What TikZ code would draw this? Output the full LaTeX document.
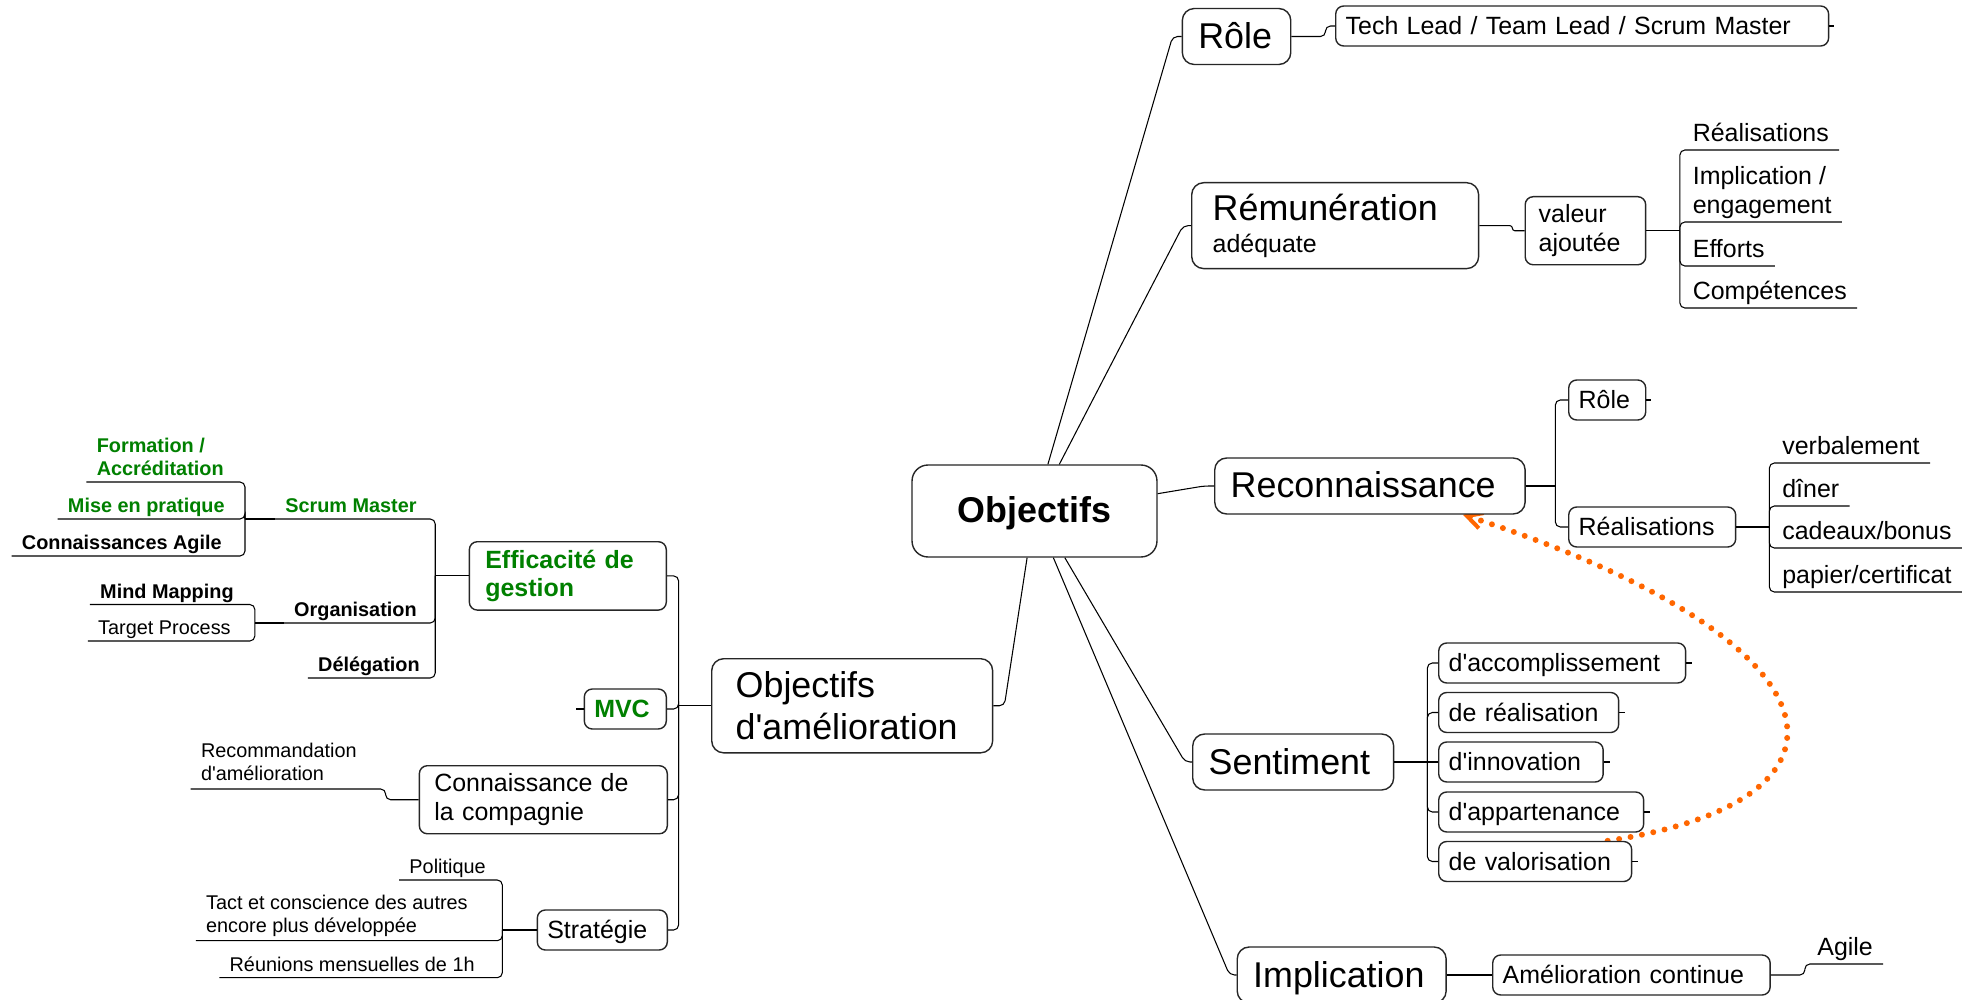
\documentclass[tikz,border=0pt]{standalone}
\usepackage{fontspec}
\setmainfont{Liberation Sans}[Ligatures=TeXOff]
\usepackage{tikz}
\usetikzlibrary{calc,arrows.meta}
\definecolor{mmgreen}{RGB}{0,128,0}
\definecolor{mmorange}{RGB}{255,102,0}
\newcommand{\fbig}{\fontsize{20.4pt}{23.8pt}\selectfont}
\newcommand{\fmed}{\fontsize{14.2pt}{16.4pt}\selectfont}
\newcommand{\fsmall}{\fontsize{11.3pt}{13pt}\selectfont}
\pgfdeclarelayer{background}
\pgfsetlayers{background,main}
\tikzset{
  conn/.style={line width=0.6pt, rounded corners=0.1cm},
  mtopic/.style={draw=black!85, line width=0.8pt, fill=white, rounded corners=0.16cm,
    align=left, text width=#1, font=\fmed},
  topic/.style={mtopic=#1, inner xsep=0.2cm, text height=0.4cm, text depth=0.05cm, minimum height=0.8cm},
  bigtopic/.style={mtopic=#1, rounded corners=0.24cm, inner xsep=0.32cm, text height=0.52cm,
    text depth=0.04cm, minimum height=1.12cm, font=\fbig},
  leaf/.style={font=\fmed, align=left, inner xsep=0.2cm, inner ysep=0.06cm, text depth=0.11cm},
  mleaf/.style={font=\fmed, align=left, inner xsep=0.2cm, inner ysep=0.06cm},
  sleaf/.style={font=\fsmall, align=left, inner xsep=0.2cm, inner ysep=0.04cm, text depth=0.08cm},
  msleaf/.style={font=\fsmall, align=left, inner xsep=0.2cm, inner ysep=#1},
  link/.style={mmorange, line width=3.4pt, line cap=round, dash pattern=on 0pt off 6.6pt,
    -{Straight Barb[length=0.3cm, width=0.32cm, line width=2.3pt]}}
}
\begin{document}
\begin{tikzpicture}[x=0.02cm, y=-0.02cm]
    \begin{pgfonlayer}{background}
    \fill[white] (0,0) rectangle (1982,1000);
    \end{pgfonlayer}
    \useasboundingbox (0,0) rectangle (1982,1000);
    % centre
    \node[bigtopic=4.26cm, align=center, minimum height=1.84cm, rounded corners=0.32cm, font=\fbig\bfseries] (obj) at (1034.5,511) {Objectifs};
    % right side
    \node[bigtopic=1.53cm, anchor=west] (role) at (1181.6,36.5) {Rôle};
    \node[topic=9.46cm, anchor=west] (tech) at (1335,26) {Tech Lead / Team Lead / Scrum Master};
    \node[mtopic=4.9cm, anchor=north west, rounded corners=0.24cm, inner xsep=0.42cm, inner ysep=0.22cm] (remu) at (1191,182) {{\fbig Rémunération}\\[2pt]adéquate};
    \node[mtopic=1.87cm, anchor=north west, inner xsep=0.27cm, inner ysep=0.16cm] (valeur) at (1524.5,196) {valeur\\ajoutée};
    \node[leaf, anchor=south west] (vreal) at (1682.5,150) {Réalisations};
    \node[mleaf, anchor=south west] (vimpl) at (1682.5,222) {Implication /\\engagement};
    \node[leaf, anchor=south west] (veff) at (1682.5,266) {Efforts};
    \node[leaf, anchor=south west] (vcomp) at (1682.5,308) {Compétences};
    \node[bigtopic=5.57cm, anchor=west] (reco) at (1214,486) {Reconnaissance};
    \node[topic=1.14cm, anchor=west] (rrole) at (1568,400) {Rôle};
    \node[topic=2.94cm, anchor=west] (rreal) at (1568,527) {Réalisations};
    \node[leaf, anchor=south west] (verb) at (1772,463) {verbalement};
    \node[leaf, anchor=south west] (diner) at (1772,506) {dîner};
    \node[leaf, anchor=south west] (cado) at (1772,548) {cadeaux/bonus};
    \node[leaf, anchor=south west] (papier) at (1772,592) {papier/certificat};
    \node[bigtopic=3.38cm, anchor=west] (senti) at (1192,762) {Sentiment};
    \node[topic=4.54cm, anchor=west] (accom) at (1438,663) {d'accomplissement};
    \node[topic=3.2cm, anchor=west] (sreal) at (1438,712.5) {de réalisation};
    \node[topic=2.89cm, anchor=west] (innov) at (1438,762) {d'innovation};
    \node[topic=3.7cm, anchor=west] (appart) at (1438,812) {d'appartenance};
    \node[topic=3.46cm, anchor=west] (valo) at (1438,861.5) {de valorisation};
    \node[bigtopic=3.54cm, anchor=west] (impl) at (1236.5,975) {Implication};
    \node[topic=5.15cm, anchor=west] (amel) at (1492,975) {Amélioration continue};
    \node[leaf, anchor=south west] (agile) at (1807,964) {Agile};
    % left side
    \node[mtopic=4.66cm, anchor=north west, font=\fbig, rounded corners=0.24cm, inner xsep=0.48cm, inner ysep=0.26cm] (objam) at (711,658) {Objectifs\\d'amélioration};
    \node[mtopic=3.3cm, anchor=north east, font=\fmed\bfseries, text=mmgreen, inner xsep=0.32cm, inner ysep=0.16cm] (eff) at (667,541) {Efficacité de\\gestion};
    \node[topic=1.24cm, anchor=east, font=\fmed\bfseries, text=mmgreen] (mvc) at (667,709) {MVC};
    \node[mtopic=4.36cm, anchor=north east, inner xsep=0.3cm, inner ysep=0.16cm] (cdc) at (668,765) {Connaissance de\\la compagnie};
    \node[topic=2.2cm, anchor=east] (strat) at (668,930) {Stratégie};
    \node[sleaf, anchor=south east, font=\fsmall\bfseries, text=mmgreen] (scrum) at (427,519) {Scrum Master};
    \node[sleaf, anchor=south east, font=\fsmall\bfseries] (orga) at (427,623) {Organisation};
    \node[sleaf, anchor=south east, font=\fsmall\bfseries] (deleg) at (430,678) {Délégation};
    \node[msleaf=0.12cm, anchor=south east, font=\fsmall\bfseries, text=mmgreen] (form) at (234,482) {Formation /\\Accréditation};
    \node[sleaf, anchor=south east, font=\fsmall\bfseries, text=mmgreen] (mise) at (235,519) {Mise en pratique};
    \node[sleaf, anchor=south east, font=\fsmall\bfseries] (agco) at (232,556) {Connaissances Agile};
    \node[sleaf, anchor=south east, font=\fsmall\bfseries] (mind) at (244,604.5) {Mind Mapping};
    \node[sleaf, anchor=south east] (target) at (241,641) {Target Process};
    \node[msleaf=0.16cm, anchor=south east] (recom) at (367,789) {Recommandation\\d'amélioration};
    \node[sleaf, anchor=south east] (polit) at (496,880) {Politique};
    \node[msleaf=0.07cm, anchor=south east] (tact) at (478,940.7) {Tact et conscience des autres\\encore plus développée};
    \node[sleaf, anchor=south east] (reun) at (485,977.7) {Réunions mensuelles de 1h};
    % Draw edges
    \draw[conn] (obj.74) -- ($(role.west)+(-9,0)$) -- (role.west);
    \draw[conn] (obj.62) -- ($(remu.west)+(-8,0)$) -- (remu.west);
    \draw[conn] (obj.8) -- ($(reco.west)+(-10,0)$) -- (reco.west);
    \draw[conn] (obj.303) -- ($(senti.west)+(-7,0)$) -- (senti.west);
    \draw[conn] (obj.292) -- ($(impl.west)+(-7,0)$) -- (impl.west);
    \draw[conn] (obj.261) -- ($(objam.east)+(11,0)$) -- (objam.east);
    \draw[conn] (role.east) -- ++(34,0) |- (tech.west);
    \draw[conn] (tech.east) -- ++(5,0);
    \draw[conn, rounded corners=0.05cm] (remu.east) -- ++(33,0) |- (valeur.west);
    \draw[conn] (valeur.east) -- ++(33.5,0) coordinate (jval);
    \foreach \n in {vreal,vimpl,veff,vcomp} \draw[conn] (jval) |- (\n.south east);
    \draw[conn] (reco.east) -- ++(29.5,0) coordinate (jreco);
    \draw[conn] (jreco) |- (rrole.west);
    \draw[conn] (jreco) |- (rreal.west);
    \draw[conn] (rrole.east) -- ++(5,0);
    \draw[conn] (rreal.east) -- ++(33,0) coordinate (jrreal);
    \foreach \n in {verb,diner,cado,papier} \draw[conn] (jrreal) |- (\n.south east);
    \draw[conn] (senti.east) -- ++(33,0) coordinate (jsenti);
    \foreach \n in {accom,sreal,appart,valo} \draw[conn] (jsenti) |- (\n.west);
    \draw[conn] (jsenti) -- (innov.west);
    \foreach \n in {accom,sreal,innov,appart,valo} \draw[conn] (\n.east) -- ++(6,0);
    \draw[conn] (impl.east) -- (amel.west);
    \draw[conn] (amel.east) -- ++(34,0) |- (agile.south east);
    \draw[conn] (objam.west) -- ++(-32.4,0) coordinate (jobjam);
    \foreach \n in {eff,mvc,cdc,strat} \draw[conn] (jobjam) |- (\n.east);
    \draw[conn] (mvc.west) -- ++(-8,0);
    \draw[conn] (eff.west) -- ++(-33.4,0) coordinate (jeff);
    \foreach \n in {scrum,orga,deleg} \draw[conn] (jeff) |- (\n.south west);
    \draw[conn] (scrum.south west) -- ++(-30,0) coordinate (jscrum);
    \foreach \n in {form,mise,agco} \draw[conn] (jscrum) |- (\n.south west);
    \draw[conn] (orga.south west) -- ++(-29,0) coordinate (jorga);
    \foreach \n in {mind,target} \draw[conn] (jorga) |- (\n.south west);
    \draw[conn] (cdc.west) -- ++(-33,0) |- (recom.south west);
    \draw[conn] (strat.west) -- ++(-34.3,0) coordinate (jstrat);
    \foreach \n in {polit,tact,reun} \draw[conn] (jstrat) |- (\n.south west);
    % orange link
    \begin{pgfonlayer}{background}
    \draw[link] ([xshift=1.45cm]valo.north) .. controls (1880,800) and (1850,640) .. ([xshift=1.86cm]reco.south);
    \end{pgfonlayer}
\end{tikzpicture}
\end{document}
